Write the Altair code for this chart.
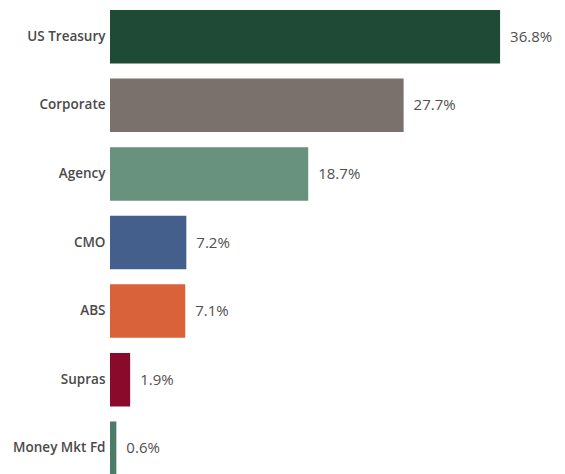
import altair as alt
import pandas as pd

categories = ["US Treasury", "Corporate", "Agency", "CMO", "ABS", "Supras", "Money Mkt Fd"]
values = [36.8, 27.7, 18.7, 7.2, 7.1, 1.9, 0.6]
colors = ["#1f4a35", "#7a716d", "#68927e", "#455f8c", "#d9623a", "#8a0a2c", "#4e7a68"]

df = pd.DataFrame({"cat": categories, "val": values, "color": colors})
df["label"] = [f"{v:.1f}%" for v in values]

y = alt.Y("cat:N", sort=categories, title=None,
          scale=alt.Scale(paddingInner=0.22, paddingOuter=0.03),
          axis=alt.Axis(domain=False, ticks=False, grid=False, labelPadding=5, labelFont="Open Sans",
                        labelFontSize=13.5, labelFontWeight=600, labelColor="#4a4a4a"))
x = alt.X("val:Q", scale=alt.Scale(domain=[0, 40]), axis=None)

bars = alt.Chart(df).mark_bar().encode(
    x=x, y=y, color=alt.Color("color:N", scale=None)
)
text = alt.Chart(df).mark_text(align="left", baseline="middle", dx=10, font="Open Sans",
                               fontSize=15, color="#505050").encode(
    x=x, y=y, text="label:N"
)

chart = (bars + text).properties(
    width=424, height=469,
    autosize=alt.AutoSizeParams(type="none"),
    padding={"left": 102, "top": 0, "right": 23, "bottom": 0},
).configure(background="white").configure_view(stroke=None)

chart.save("out.html", embed_options={"renderer": "svg", "actions": False})
